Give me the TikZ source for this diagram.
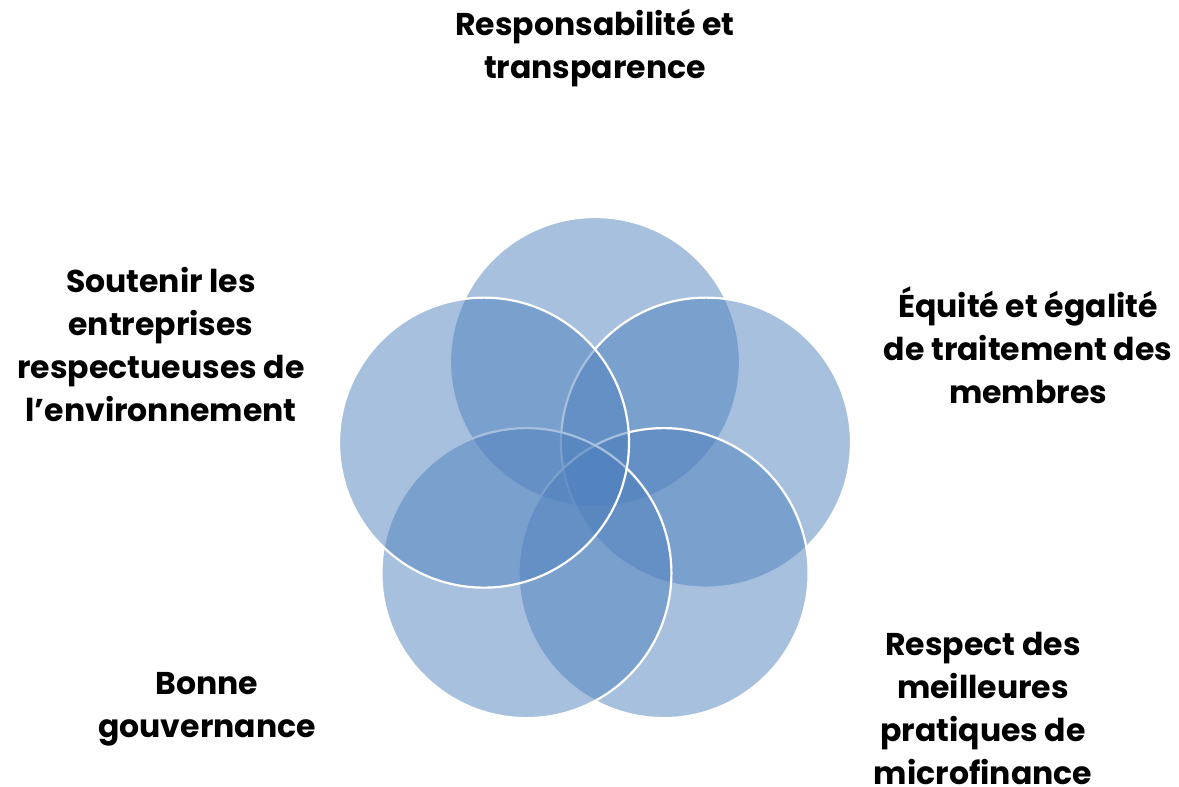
\documentclass[tikz,border=0pt]{standalone}
\usepackage{fontspec}
\setmainfont{Poppins}
\usepackage{tikz}
\usetikzlibrary{positioning}
\usetikzlibrary{calc}

\definecolor{vennblue}{HTML}{4F81BD}

\tikzset{
    venn/.style={circle, minimum size=290pt, inner sep=0pt,
        fill=vennblue, fill opacity=0.5, draw=white, line width=2.2pt},
    label text/.style={align=center, text=black,
        font=\fontsize{31.5}{43}\selectfont\bfseries}
}

\begin{document}
\begin{tikzpicture}[x=1pt, y=1pt]
        \useasboundingbox (0,0) rectangle (1179,-787);

        \coordinate (mid) at (595,-478.7);

        % circles, drawn clockwise from the top
        \foreach \i/\a in {1/90, 2/18, 3/-54, 4/-126, 5/162}
        {
            \node[venn] (c\i) at ($(mid)+(\a:116.7)$) {};
        }

        \node[label text] (tTop) at (595,-48)
        {Responsabilité et\\transparence};

        \node[label text] (tRight) at (1028,-345)
        {Équité et égalité\\de traitement des\\membres};

        \node[label text] (tBotRight) at (983,-708)
        {Respect des\\meilleures\\pratiques de\\microfinance};

        \node[label text] (tBotLeft) at (207,-709)
        {Bonne\\gouvernance};

        \node[label text] (tLeft) at (161,-345)
        {Soutenir les\\entreprises\\respectueuses de\\l’environnement};
    \end{tikzpicture}
\end{document}
